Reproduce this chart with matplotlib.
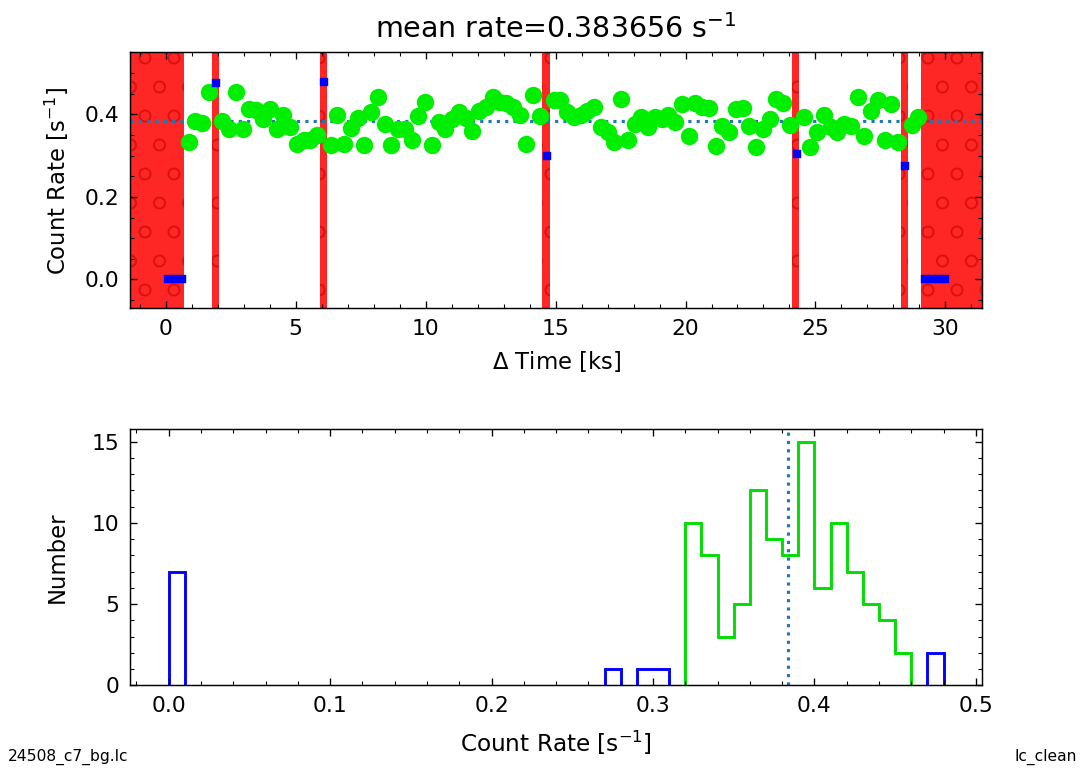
import numpy as np
import matplotlib
matplotlib.use("Agg")
import matplotlib.pyplot as plt
from matplotlib.ticker import MultipleLocator

# ===== data =====
mean_rate = 0.383656   # s^-1
t0 = 0.1               # ks, centre of first bin
time_bin = 0.26        # ks

# count rate per time bin (s^-1)
rate = [
    0.0, 0.0, 0.0, 0.333, 0.385, 0.379, 0.454, 0.475, 0.383, 0.365,
    0.454, 0.365, 0.413, 0.411, 0.388, 0.412, 0.365, 0.399, 0.369, 0.329,
    0.339, 0.337, 0.349, 0.478, 0.325, 0.399, 0.329, 0.367, 0.391, 0.325,
    0.406, 0.442, 0.377, 0.325, 0.365, 0.365, 0.337, 0.397, 0.429, 0.325,
    0.381, 0.365, 0.388, 0.406, 0.391, 0.359, 0.407, 0.419, 0.442, 0.429,
    0.428, 0.417, 0.398, 0.329, 0.448, 0.397, 0.298, 0.434, 0.434, 0.406,
    0.394, 0.398, 0.407, 0.417, 0.369, 0.357, 0.333, 0.438, 0.337, 0.377,
    0.394, 0.369, 0.394, 0.388, 0.399, 0.381, 0.426, 0.348, 0.427, 0.418,
    0.416, 0.323, 0.371, 0.357, 0.414, 0.415, 0.373, 0.321, 0.365, 0.388,
    0.438, 0.427, 0.375, 0.305, 0.394, 0.321, 0.357, 0.398, 0.369, 0.358,
    0.377, 0.371, 0.442, 0.347, 0.408, 0.434, 0.337, 0.426, 0.333, 0.275,
    0.375, 0.394, 0.0, 0.0, 0.0, 0.0,
]
# bins cut by a bad interval (partial exposure)
partial_bins = [7, 23, 56, 93, 109]

# bad time intervals (ks)
bad_start = [-2.0, 1.77, 5.95, 14.49, 24.08, 28.28, 29.08]
bad_stop = [0.70, 2.04, 6.22, 14.78, 24.38, 28.56, 33.0]

hist_edges = np.round(np.arange(0.0, 0.485, 0.01), 2)

rate = np.array(rate)
time = t0 + time_bin * np.arange(len(rate))
bad = np.zeros(len(rate), dtype=bool)
bad[partial_bins] = True
bad |= rate <= 0
good = ~bad

DPI = 174  # hatch circles come out at the right spacing at this dpi

plt.rcParams['font.family'] = ['DejaVu Sans']
plt.rcParams['xtick.direction'] = 'in'
plt.rcParams['ytick.direction'] = 'in'
plt.rcParams['xtick.top'] = True
plt.rcParams['ytick.right'] = True
plt.rcParams['hatch.linewidth'] = 0.6

fig = plt.figure(figsize=(1083 / DPI, 771 / DPI), dpi=DPI)
ax1 = fig.add_axes([0.120, 0.600, 0.787, 0.332])
ax2 = fig.add_axes([0.120, 0.111, 0.787, 0.332])


def style_axis(ax):
    ax.tick_params(which='major', length=2.9, width=0.55, labelsize=9.0, pad=4.5)
    ax.tick_params(which='minor', length=1.8, width=0.45)
    for s in ax.spines.values():
        s.set_linewidth(0.6)


# ===== light curve =====
for a, b in zip(bad_start, bad_stop):
    ax1.axvspan(a, b, facecolor='red', edgecolor='#d81010', alpha=0.85,
                hatch='o', lw=0, zorder=1)
ax1.axhline(mean_rate, color='#1f77b4', ls=':', lw=1.3, zorder=2)
ax1.plot(time[good], rate[good], 'o', color='#00ee00', ms=6.2, zorder=3)
ax1.plot(time[bad], rate[bad], 's', color='blue', ms=2.7, zorder=4)
ax1.set_xlim(-1.38, 31.42)
ax1.set_ylim(-0.07, 0.55)
ax1.set_xticks([0, 5, 10, 15, 20, 25, 30])
ax1.set_yticks([0.0, 0.2, 0.4])
ax1.xaxis.set_minor_locator(MultipleLocator(1))
ax1.yaxis.set_minor_locator(MultipleLocator(0.05))
style_axis(ax1)
ax1.set_xlabel(r'$\Delta$ Time [ks]', fontsize=9.4)
ax1.set_ylabel(r'Count Rate [s$^{-1}$]', fontsize=9.4, labelpad=5.5)
ax1.set_title('mean rate=%.6f s$^{-1}$' % mean_rate, fontsize=11.8)


# ===== histogram =====
def draw_hist(ax, values, color):
    counts, edges = np.histogram(values, bins=hist_edges)
    i = 0
    while i < len(counts):
        if counts[i] == 0:
            i += 1
            continue
        j = i
        while j < len(counts) and counts[j] > 0:
            j += 1
        ax.stairs(counts[i:j], edges[i:j + 1], baseline=0, color=color, lw=1.2)
        i = j


draw_hist(ax2, rate[good], '#00dd00')
draw_hist(ax2, rate[bad], 'blue')
ax2.axvline(mean_rate, color='#1f77b4', ls=':', lw=1.3)
ax2.set_xlim(-0.024, 0.504)
ax2.set_ylim(0, 15.75)
ax2.set_yticks([0, 5, 10, 15])
ax2.xaxis.set_minor_locator(MultipleLocator(0.02))
ax2.yaxis.set_minor_locator(MultipleLocator(1))
style_axis(ax2)
ax2.set_xlabel(r'Count Rate [s$^{-1}$]', fontsize=9.6, labelpad=5)
ax2.set_ylabel('Number', fontsize=9.4, labelpad=9.5)

fig.text(0.007, 0.018, '24508_c7_bg.lc', fontsize=6.4, va='center')
fig.text(0.994, 0.018, 'lc_clean', fontsize=6.4, va='center', ha='right')

fig.savefig('out.png', dpi=DPI)
